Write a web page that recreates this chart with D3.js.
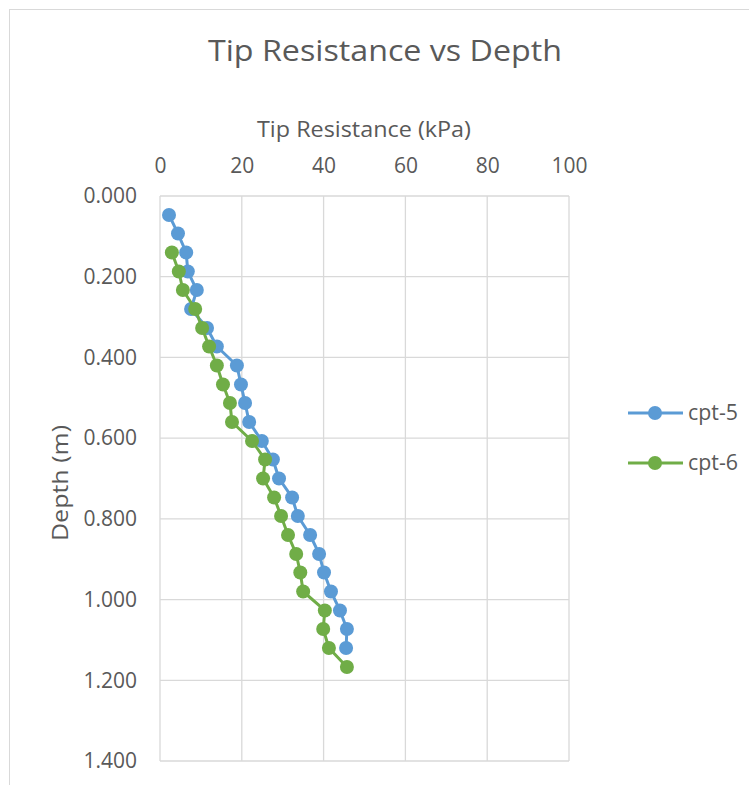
<!DOCTYPE html>
<html>
<head>
<meta charset="utf-8">
<script src="https://cdn.jsdelivr.net/npm/d3@7"></script>
<style>
body { margin: 0; background: #fff; }
text { font-family: "Open Sans", "Noto Sans", sans-serif; fill: #595959; }
</style>
</head>
<body>
<script>
// depth (m) of each reading
var depth5 = [0.047, 0.093, 0.140, 0.187, 0.233, 0.280, 0.327, 0.373, 0.420, 0.467, 0.513, 0.560,
              0.607, 0.653, 0.700, 0.747, 0.793, 0.840, 0.887, 0.933, 0.980, 1.027, 1.073, 1.120];
var tip5 = [2.2, 4.4, 6.4, 6.8, 9.0, 7.6, 11.5, 13.9, 18.8, 19.8, 20.8, 21.8,
            24.9, 27.6, 29.1, 32.3, 33.7, 36.7, 38.9, 40.1, 41.8, 44.0, 45.7, 45.5];
var depth6 = [0.140, 0.187, 0.233, 0.280, 0.327, 0.373, 0.420, 0.467, 0.513, 0.560, 0.607, 0.653,
              0.700, 0.747, 0.793, 0.840, 0.887, 0.933, 0.980, 1.027, 1.073, 1.120, 1.167];
var tip6 = [2.9, 4.6, 5.6, 8.6, 10.3, 12.0, 13.9, 15.4, 17.1, 17.6, 22.5, 25.7,
            25.2, 27.9, 29.6, 31.3, 33.3, 34.3, 35.0, 40.3, 39.9, 41.3, 45.7];
var seriesNames = ["cpt-5", "cpt-6"];
var seriesColors = ["#5B9BD5", "#70AD47"];
var xTicks = [0, 20, 40, 60, 80, 100];
var yTicks = [0, 0.2, 0.4, 0.6, 0.8, 1.0, 1.2, 1.4];

var W = 749, H = 785;
var svg = d3.select("body").append("svg").attr("width", W).attr("height", H);

// chart frame
svg.append("rect").attr("x", 9.5).attr("y", 9.5).attr("width", W + 10).attr("height", H + 10)
    .attr("fill", "none").attr("stroke", "#d9d9d9");

var x = d3.scaleLinear().domain([0, 100]).range([160, 569]);
var y = d3.scaleLinear().domain([0, 1.4]).range([196, 761]);

// gridlines
svg.append("g").selectAll("line").data(xTicks).enter().append("line")
    .attr("x1", function (d) { return x(d); }).attr("x2", function (d) { return x(d); })
    .attr("y1", y(0)).attr("y2", y(1.4))
    .attr("stroke", "#d9d9d9").attr("stroke-width", 1.3);
svg.append("g").selectAll("line").data(yTicks).enter().append("line")
    .attr("x1", x(0)).attr("x2", x(100))
    .attr("y1", function (d) { return y(d); }).attr("y2", function (d) { return y(d); })
    .attr("stroke", "#d9d9d9").attr("stroke-width", 1.3);

// axes (labels only)
var xAxis = svg.append("g").attr("transform", "translate(0," + (y(0) - 25) + ")")
    .call(d3.axisTop(x).tickValues(xTicks).tickSize(0).tickFormat(d3.format("d")));
var yAxis = svg.append("g").attr("transform", "translate(" + (x(0) - 20) + ",0)")
    .call(d3.axisLeft(y).tickValues(yTicks).tickSize(0).tickFormat(d3.format(".3f")));
[xAxis, yAxis].forEach(function (a) {
    a.select(".domain").remove();
    a.selectAll("text").attr("font-size", 21).attr("fill", "#595959")
        .style("font-family", "'Open Sans', sans-serif");
});
xAxis.selectAll("text").attr("dy", "0.25em");

// titles
svg.append("text").attr("x", 385).attr("y", 61).attr("text-anchor", "middle")
    .attr("font-size", 30).attr("textLength", 354).attr("lengthAdjust", "spacingAndGlyphs")
    .text("Tip Resistance vs Depth");
svg.append("text").attr("x", 364).attr("y", 137).attr("text-anchor", "middle")
    .attr("font-size", 21).attr("textLength", 214).attr("lengthAdjust", "spacingAndGlyphs")
    .text("Tip Resistance (kPa)");
svg.append("text").attr("transform", "translate(68,483) rotate(-90)").attr("text-anchor", "middle")
    .attr("font-size", 21).attr("textLength", 116).attr("lengthAdjust", "spacingAndGlyphs")
    .text("Depth (m)");

// series
var series = [
    { name: seriesNames[0], color: seriesColors[0], pts: d3.zip(tip5, depth5) },
    { name: seriesNames[1], color: seriesColors[1], pts: d3.zip(tip6, depth6) }
];
var line = d3.line().x(function (d) { return x(d[0]); }).y(function (d) { return y(d[1]); });

series.forEach(function (s) {
    var g = svg.append("g");
    g.append("path").attr("d", line(s.pts)).attr("fill", "none")
        .attr("stroke", s.color).attr("stroke-width", 3).attr("stroke-linejoin", "round");
    g.selectAll("circle").data(s.pts).enter().append("circle")
        .attr("cx", function (d) { return x(d[0]); })
        .attr("cy", function (d) { return y(d[1]); })
        .attr("r", 7).attr("fill", s.color);
});

// legend
series.forEach(function (s, i) {
    var ly = 413 + i * 50;
    svg.append("line").attr("x1", 628).attr("x2", 683).attr("y1", ly).attr("y2", ly)
        .attr("stroke", s.color).attr("stroke-width", 3);
    svg.append("circle").attr("cx", 655).attr("cy", ly).attr("r", 7).attr("fill", s.color);
    svg.append("text").attr("x", 688).attr("y", ly).attr("dy", "0.35em")
        .attr("font-size", 21).attr("textLength", 50).attr("lengthAdjust", "spacingAndGlyphs")
        .text(s.name);
});
</script>
</body>
</html>
